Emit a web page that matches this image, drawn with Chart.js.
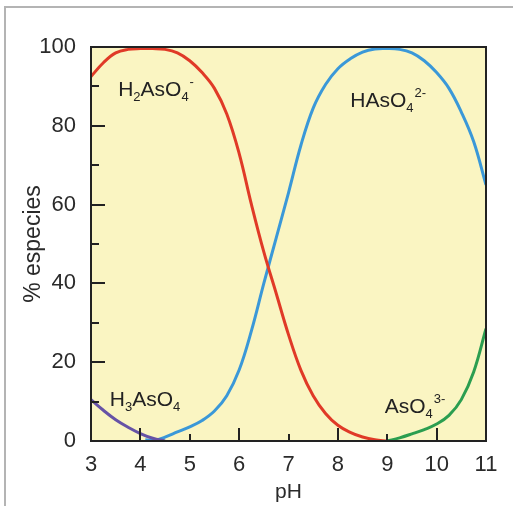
<!DOCTYPE html>
<html><head><meta charset="utf-8">
<script src="https://cdn.jsdelivr.net/npm/chart.js@4.4.1/dist/chart.umd.min.js"></script>
<style>
html,body{margin:0;padding:0;background:#fff;}
#wrap{position:relative;width:513px;height:506px;}
#frame{position:absolute;left:4px;top:6px;width:509px;height:500px;border-left:2px solid #b4b4b4;border-top:2px solid #b4b4b4;box-sizing:border-box;}
canvas{position:absolute;left:0;top:0;}
</style></head>
<body><div id="wrap"><div id="frame"></div><canvas id="c" width="513" height="506"></canvas></div>
<script>
// pH values and % of each species
const phH3 = [3.0, 3.25, 3.5, 3.75, 4.0, 4.25, 4.5];
const valH3 = [10.5, 7.8, 5.4, 3.5, 1.9, 0.7, 0.0];

const phH2 = [3.0,3.25,3.5,3.75,4.0,4.25,4.5,4.75,5.0,5.25,5.5,5.75,6.0,6.25,6.5,6.75,7.0,7.25,7.5,7.75,8.0,8.25,8.5,8.75,9.0];
const valH2 = [92.5,96,98.5,99.4,99.6,99.6,99.4,98.5,96.5,93.5,89.5,83,73,60,48,37.5,27,18,11.5,7,4,2.2,1,0.3,0];

const phH1 = [4.1,4.3,4.5,4.75,5.0,5.25,5.5,5.75,6.0,6.25,6.5,6.75,7.0,7.25,7.5,7.75,8.0,8.25,8.5,8.75,9.0,9.25,9.5,9.75,10.0,10.25,10.5,10.75,11.0];
const valH1 = [0.3,0.2,1.0,2.3,3.6,5.2,7.6,11.5,18,28,40,51.5,63,75,84.5,90.5,94.5,97,98.7,99.5,99.6,99.4,98.5,96.5,93.5,89.5,83.5,76,65];

const phA = [9.0,9.25,9.5,9.75,10.0,10.25,10.5,10.75,11.0];
const valA = [0,0.8,1.8,2.9,4.3,6.5,10.5,17.5,28.5];

const xTicks = [3,4,5,6,7,8,9,10,11];
const yTickLabels = [0,20,40,60,80,100];

const pts = (xs, ys) => xs.map((x, i) => ({x: x, y: ys[i]}));

// label text pieces: [text, kind] kind: n normal, b subscript, p superscript
const speciesLabels = [
  {x: 3.55, y: 87.5, parts: [['H','n'],['2','b'],['AsO','n'],['4','b'],['-','p']]},
  {x: 8.25, y: 84.7, parts: [['HAsO','n'],['4','b'],['2-','p']]},
  {x: 3.38, y: 8.9, parts: [['H','n'],['3','b'],['AsO','n'],['4','b']]},
  {x: 8.95, y: 7.1, parts: [['AsO','n'],['4','b'],['3-','p']]}
];

const FONT = '"Liberation Sans", Arial, sans-serif';

const bgPlugin = {
  id: 'bg',
  beforeDatasetsDraw(chart) {
    const {ctx, chartArea: a} = chart;
    ctx.save();
    ctx.fillStyle = '#faf5c2';
    ctx.fillRect(a.left, a.top, a.right - a.left, a.bottom - a.top);
    ctx.restore();
  },
  afterDatasetsDraw(chart) {
    const {ctx, chartArea: a, scales} = chart;
    ctx.save();
    ctx.strokeStyle = '#222';
    ctx.lineWidth = 2;
    ctx.strokeRect(a.left, a.top, a.right - a.left, a.bottom - a.top);
    ctx.beginPath();
    scales.x.ticks.forEach(t => {
      const px = Math.round(scales.x.getPixelForValue(t.value));
      const len = (t.value % 2 === 0) ? 13 : 7;
      ctx.moveTo(px, a.bottom); ctx.lineTo(px, a.bottom - len);
    });
    scales.y.ticks.forEach(t => {
      const py = Math.round(scales.y.getPixelForValue(t.value));
      const len = (t.value % 20 === 0) ? 14 : 8;
      ctx.moveTo(a.left, py); ctx.lineTo(a.left + len, py);
    });
    ctx.stroke();
    // species labels
    ctx.fillStyle = '#222';
    ctx.textBaseline = 'alphabetic';
    speciesLabels.forEach(l => {
      let px = scales.x.getPixelForValue(l.x);
      const py = scales.y.getPixelForValue(l.y);
      l.parts.forEach(([txt, kind]) => {
        if (kind === 'n') { ctx.font = '21px ' + FONT; ctx.fillText(txt, px, py); px += ctx.measureText(txt).width; }
        else if (kind === 'b') { ctx.font = '13px ' + FONT; ctx.fillText(txt, px, py + 5); px += ctx.measureText(txt).width; }
        else { ctx.font = '13px ' + FONT; ctx.fillText(txt, px + 1, py - 10); px += ctx.measureText(txt).width; }
      });
    });
    ctx.restore();
  }
};

new Chart(document.getElementById('c'), {
  type: 'line',
  data: {
    datasets: [
      {label: 'H3AsO4', data: pts(phH3, valH3), borderColor: '#6652a6'},
      {label: 'H2AsO4-', data: pts(phH2, valH2), borderColor: '#e03a27'},
      {label: 'HAsO4 2-', data: pts(phH1, valH1), borderColor: '#3a98d8'},
      {label: 'AsO4 3-', data: pts(phA, valA), borderColor: '#2b9e50'}
    ]
  },
  options: {
    responsive: false,
    animation: false,
    events: [],
    layout: {padding: {left: 0, right: 27, top: 47, bottom: 0}},
    elements: {
      line: {borderWidth: 3, tension: 0.4, fill: false, capBezierPoints: true},
      point: {radius: 0}
    },
    plugins: {legend: {display: false}, tooltip: {enabled: false}},
    scales: {
      x: {
        type: 'linear', min: 3, max: 11,
        afterBuildTicks(s) { s.ticks = xTicks.map(v => ({value: v})); },
        ticks: {font: {size: 22, family: FONT}, color: '#2a2a2a', padding: 3},
        grid: {display: false}, border: {display: false},
        title: {display: true, text: 'pH', font: {size: 21, family: FONT}, color: '#2a2a2a', padding: {top: 0, bottom: 1}},
        afterFit(s) { s.height = 65; }
      },
      y: {
        type: 'linear', min: 0, max: 100,
        ticks: {stepSize: 10, font: {size: 22, family: FONT}, color: '#2a2a2a', padding: 7,
          callback: v => yTickLabels.includes(v) ? String(v) : ''},
        grid: {display: false}, border: {display: false},
        title: {display: true, text: '% especies', font: {size: 23, family: FONT}, color: '#2a2a2a', padding: {top: 20, bottom: 0}},
        afterFit(s) { s.width = 91; }
      }
    }
  },
  plugins: [bgPlugin]
});
</script></body></html>
